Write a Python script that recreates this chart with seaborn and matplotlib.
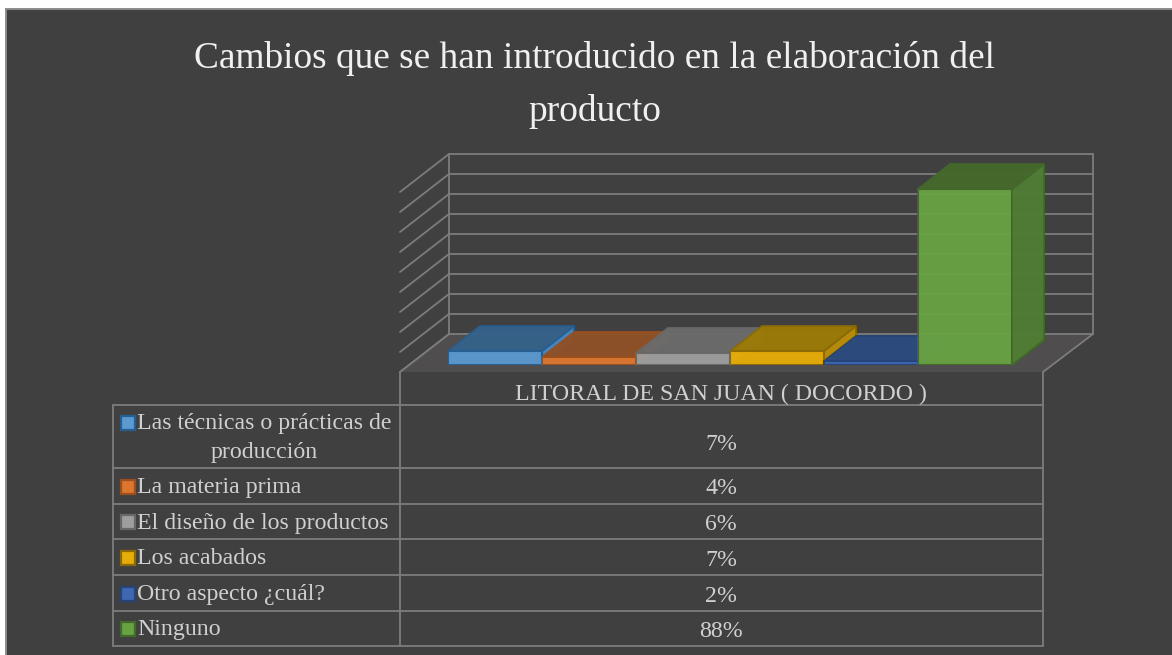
import matplotlib
matplotlib.use("Agg")
import matplotlib.pyplot as plt
from matplotlib.patches import Polygon, Rectangle
import pandas as pd
import seaborn as sns

sns.set_theme(style="white")
plt.rcParams["font.family"] = ["Liberation Serif", "DejaVu Serif"]

# datos del grafico
titulo = "Cambios que se han introducido en la elaboración del\nproducto"
columna = "LITORAL DE SAN JUAN ( DOCORDO )"
categorias = [
    "Las técnicas o prácticas de\nproducción",
    "La materia prima",
    "El diseño de los productos",
    "Los acabados",
    "Otro aspecto ¿cuál?",
    "Ninguno",
]
valores = [7, 4, 6, 7, 2, 88]
marcas_eje = [0, 10, 20, 30, 40, 50, 60, 70, 80, 90]

# colores de cada serie: frente, borde, tapa, lado
frente = ["#5b99d0", "#dd7631", "#9e9e9e", "#e6ac08", "#3f68b0", "#68a243"]
borde = ["#255e91", "#9a4f1c", "#686868", "#8a6a06", "#264478", "#43682b"]
tapa = ["#36628a", "#8f5127", "#6b6b6b", "#9b7a06", "#2b4a7e", "#47692c"]
lado = ["#4a86bb", "#b3622a", "#808080", "#b98d08", "#34568f", "#4f7d35"]

FONDO = "#404040"
LINEA = "#7c7c7c"
TEXTO = "#d0d0d0"
LW = 1.3

W, H = 1172, 655
fig = plt.figure(figsize=(W / 100, H / 100), dpi=100, facecolor="white")

# capa de fondo en pixeles, para el marco, la tabla y el efecto 3D
bg = fig.add_axes([0, 0, 1, 1], zorder=1)
bg.set_xlim(0, W)
bg.set_ylim(H, 0)
bg.axis("off")

# barras frontales con seaborn
ax = fig.add_axes([448 / W, (H - 365) / H, 564 / W, 180 / H], zorder=2)
df = pd.DataFrame({"categoria": categorias, "valor": valores})
sns.barplot(
    data=df,
    x="categoria",
    y="valor",
    hue="categoria",
    palette=frente,
    width=1.0,
    saturation=1,
    legend=False,
    ax=ax,
)
ax.set_xlim(-0.5, 5.5)
ax.set_ylim(marcas_eje[0], marcas_eje[-1])
ax.axis("off")
ax.patch.set_alpha(0)
for barra, c in zip(ax.patches, borde):
    barra.set_edgecolor(c)
    barra.set_linewidth(1.5)
    barra.set_alpha(0.96)
fig.canvas.draw()


def a_pixeles(x, y):
    px, py = ax.transData.transform((x, y))
    return px, H - py


# fondo y marco
bg.add_patch(Rectangle((6, 9), W, H, fc=FONDO, ec="#8c8c8c", lw=1.4, zorder=0))

# piso
bg.add_patch(Polygon([(400, 372), (1043, 372), (1093, 334), (449, 334)], fc="#4f4d4d", ec="none", zorder=1))
bg.plot([400, 449], [372, 334], color="#6a6a6a", lw=LW, zorder=2)
bg.plot([1043, 1093], [372, 334], color=LINEA, lw=LW, zorder=2)

# pared del fondo y lineas guia
for m in marcas_eje:
    _, y = a_pixeles(0, m)
    bg.plot([449, 1093], [y - 31, y - 31], color=LINEA, lw=LW, zorder=2)
    bg.plot([400, 449], [y + 7, y - 31], color=LINEA, lw=LW, zorder=2)
_, y0 = a_pixeles(0, marcas_eje[0])
_, y1 = a_pixeles(0, marcas_eje[-1])
bg.plot([449, 449], [y0 - 31, y1 - 31], color=LINEA, lw=LW, zorder=2)
bg.plot([1093, 1093], [y0 - 31, y1 - 31], color=LINEA, lw=LW, zorder=2)

# tapas y lados de las barras
dx, dy = 32, 25
for i, v in enumerate(valores):
    x0, yb = a_pixeles(i - 0.5, 0)
    x1, yt = a_pixeles(i + 0.5, v)
    bg.add_patch(Polygon([(x1, yb), (x1 + dx, yb - dy), (x1 + dx, yt - dy), (x1, yt)],
                         fc=lado[i], ec=borde[i], lw=LW, alpha=0.97, zorder=3 + i))
    bg.add_patch(Polygon([(x0, yt), (x0 + dx, yt - dy), (x1 + dx, yt - dy), (x1, yt)],
                         fc=tapa[i], ec=borde[i], lw=LW, alpha=0.97, zorder=3 + i))

# tabla de datos
filas = [405, 468, 504, 539, 575, 611, 646]
for y in filas:
    bg.plot([113, 1043], [y, y], color=LINEA, lw=LW, zorder=2)
bg.plot([113, 113], [filas[0], filas[-1]], color=LINEA, lw=LW, zorder=2)
bg.plot([400, 400], [372, filas[-1]], color=LINEA, lw=LW, zorder=2)
bg.plot([1043, 1043], [372, filas[-1]], color=LINEA, lw=LW, zorder=2)

bg.text(721, 394, columna, color=TEXTO, fontsize=17.2, ha="center", va="center", zorder=10)
for i, (nombre, v) in enumerate(zip(categorias, valores)):
    yc = (filas[i] + filas[i + 1]) / 2
    lineas = nombre.count("\n") + 1
    y_pct = yc + 3 if lineas == 1 else yc + 8
    bg.text(721, y_pct, f"{v}%", color=TEXTO, fontsize=17.2, ha="center", va="center", zorder=10)
    y_cuadro = yc + 0.5 if lineas == 1 else filas[i] + 18
    bg.add_patch(Rectangle((120.5, y_cuadro - 7), 14, 14, fc=frente[i], ec=borde[i], lw=1.6, zorder=10))
    bg.text(137, yc + 1.5, nombre, color=TEXTO, fontsize=17.2, ha="left", va="center",
            multialignment="center", linespacing=1.45, zorder=10)

# titulo
bg.text(595, 85, titulo, color="#f0f0f0", fontsize=26.9, ha="center", va="center", linespacing=1.67, zorder=10)

fig.savefig("out.png", dpi=100, facecolor="white")
